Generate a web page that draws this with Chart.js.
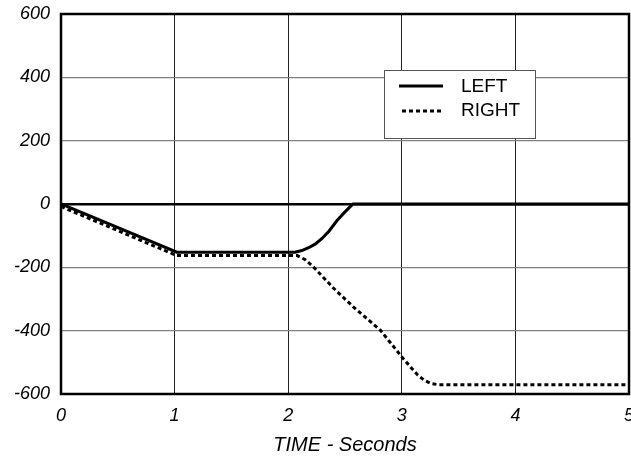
<!DOCTYPE html>
<html>
<head>
<meta charset="utf-8">
<script src="https://cdn.jsdelivr.net/npm/chart.js@4/dist/chart.umd.min.js"></script>
<style>
html,body{margin:0;padding:0;background:#fff;}
#wrap{position:relative;width:631px;height:457px;}
</style>
</head>
<body>
<div id="wrap"><canvas id="c" width="631" height="457"></canvas></div>
<script>
const seriesNames = ["LEFT", "RIGHT"];
const leftTime  = [0, 1.02, 2.06, 2.12, 2.18, 2.24, 2.3, 2.36, 2.43, 2.5, 2.57, 3, 4, 5];
const leftVals  = [0, -152, -152, -147, -138, -126, -108, -85, -52, -25, 0, 0, 0, 0];
const rightTime = [0, 1.02, 2.08, 2.15, 2.22, 2.4, 2.57, 2.81, 3.01, 3.08, 3.14, 3.2, 3.26, 3.33, 4, 5];
const rightVals = [-8, -163, -163, -176, -198, -266, -324, -398, -487, -516, -540, -557, -567, -571, -571, -571];
const xTicks = [0, 1, 2, 3, 4, 5];
const yTicks = [-600, -400, -200, 0, 200, 400, 600];
const xTitle = "TIME - Seconds";

function pts(t, v){ return t.map((x,i)=>({x:x, y:v[i]})); }
const FONT = '"Liberation Sans", Arial, sans-serif';

const framePlugin = {
  id: 'frame',
  afterDatasetsDraw(chart){
    const {ctx, chartArea:a} = chart;
    ctx.save();
    ctx.strokeStyle = '#000';
    ctx.lineWidth = 2.5;
    ctx.strokeRect(a.left, a.top, a.right - a.left, a.bottom - a.top);
    ctx.restore();
  },
  afterDraw(chart){
    const ctx = chart.ctx;
    ctx.save();
    ctx.fillStyle = '#fff';
    ctx.fillRect(384, 70, 151, 68);
    ctx.strokeStyle = '#555';
    ctx.lineWidth = 1;
    ctx.strokeRect(384.5, 70.5, 151, 68);
    ctx.strokeStyle = '#000';
    ctx.lineWidth = 3;
    ctx.beginPath(); ctx.moveTo(399, 86); ctx.lineTo(443, 86); ctx.stroke();
    ctx.setLineDash([4,3]);
    ctx.beginPath(); ctx.moveTo(402, 111); ctx.lineTo(444, 111); ctx.stroke();
    ctx.setLineDash([]);
    ctx.fillStyle = '#000';
    ctx.font = '19px ' + FONT;
    ctx.textBaseline = 'middle';
    ctx.textAlign = 'left';
    ctx.fillText(seriesNames[0], 461, 87);
    ctx.fillText(seriesNames[1], 461, 111);
    ctx.restore();
  }
};

new Chart(document.getElementById('c'), {
  type: 'line',
  data: {
    datasets: [
      { label: seriesNames[0], data: pts(leftTime, leftVals), borderColor: '#000', borderWidth: 3,
        pointRadius: 0, tension: 0, fill: false },
      { label: seriesNames[1], data: pts(rightTime, rightVals), borderColor: '#000', borderWidth: 3,
        borderDash: [4,3], pointRadius: 0, tension: 0, fill: false }
    ]
  },
  options: {
    responsive: false,
    animation: false,
    layout: { padding: { top: 14, right: 2, bottom: 0, left: 0 } },
    plugins: { legend: { display: false }, tooltip: { enabled: false } },
    scales: {
      x: {
        type: 'linear', min: 0, max: 5,
        afterBuildTicks(s){ s.ticks = xTicks.map(v=>({value:v})); },
        afterFit(s){ s.paddingRight = 0; s.paddingLeft = 0; s.height = 63; },
        grid: { color: '#222', lineWidth: 1, drawTicks: false },
        border: { display: false },
        ticks: { color: '#000', padding: 11, maxRotation: 0, autoSkip: false,
          font: { family: FONT, size: 18, style: 'italic' } },
        title: { display: true, text: xTitle, color: '#000', padding: { top: 2, bottom: 0 },
          font: { family: FONT, size: 20, style: 'italic' } }
      },
      y: {
        min: -600, max: 600,
        afterBuildTicks(s){ s.ticks = yTicks.map(v=>({value:v})); },
        afterFit(s){ s.width = 61; s.paddingTop = 0; s.paddingBottom = 0; },
        grid: { drawTicks: false,
          color: c => c.tick && c.tick.value === 0 ? '#000' : '#808080',
          lineWidth: c => c.tick && c.tick.value === 0 ? 2.5 : 1.2 },
        border: { display: false },
        ticks: { color: '#000', padding: 11,
          font: { family: FONT, size: 18, style: 'italic' } }
      }
    }
  },
  plugins: [framePlugin]
});
</script>
</body>
</html>
